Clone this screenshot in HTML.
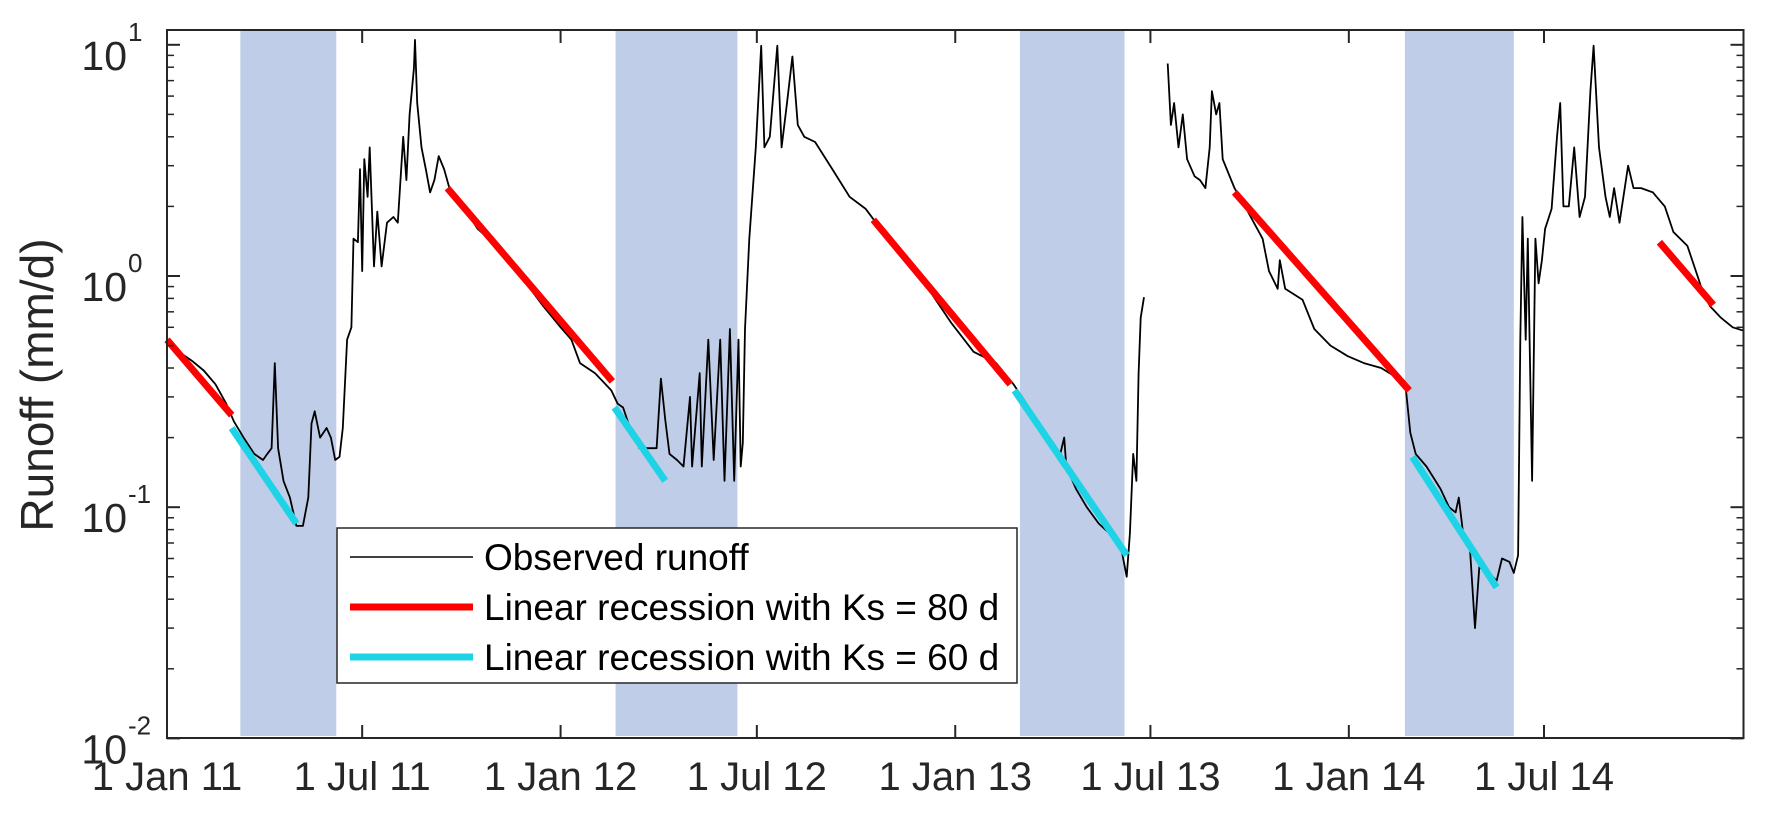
<!DOCTYPE html>
<html><head><meta charset="utf-8"><style>
html,body{margin:0;padding:0;background:#fff;}
svg{display:block;font-family:"Liberation Sans",Arial,sans-serif;}
</style></head><body>
<svg id="chart" width="1766" height="821"></svg>
<script>
// ---- data ----
const obsDays=[0,23,34,45,55,62,71,81,89,93,97,100,103,108,114,120,126,131,134,137,142,148,152,156,160,163,167,171,173,177,179,181,183,186,188,192,195,199,204,210,214,219,222,225,227,229,230,232,236,240,244,248,252,257,263,276,288,302,318,333,349,365,375,383,397,412,418,423,428,433,438,454,458,462,466,473,479,485,487,494,496,502,507,513,517,522,526,530,532,534,536,540,546,551,554,559,566,570,575,580,585,591,601,617,633,648,664,685,706,727,748,769,785,795,806,816,827,832,834,843,853,864,874,884,890,893,896,899,901,903,906];
const obsVals=[0.51,0.43,0.39,0.34,0.28,0.235,0.2,0.17,0.16,0.17,0.18,0.42,0.18,0.13,0.11,0.083,0.083,0.11,0.23,0.26,0.2,0.22,0.2,0.16,0.165,0.22,0.53,0.6,1.45,1.4,2.9,1.05,3.2,2.2,3.6,1.1,1.9,1.1,1.7,1.8,1.7,4.0,2.6,5.0,6.3,7.9,10.5,5.6,3.6,2.9,2.3,2.6,3.3,2.9,2.3,1.95,1.6,1.4,1.17,0.93,0.74,0.6,0.53,0.42,0.38,0.32,0.28,0.27,0.23,0.21,0.18,0.18,0.36,0.24,0.17,0.16,0.15,0.3,0.15,0.38,0.15,0.53,0.16,0.53,0.13,0.59,0.13,0.53,0.15,0.19,0.59,1.45,3.6,9.9,3.6,4.0,9.9,3.6,5.6,8.9,4.5,4.0,3.8,2.9,2.2,1.95,1.55,1.17,0.88,0.63,0.47,0.42,0.34,0.29,0.23,0.2,0.16,0.2,0.15,0.12,0.1,0.085,0.077,0.07,0.05,0.077,0.17,0.13,0.38,0.66,0.81];
const obsDays2=[928,931,934,938,942,946,953,958,963,967,969,973,976,979,990,1001,1016,1022,1030,1032,1037,1053,1064,1079,1095,1110,1126,1142,1149,1153,1158,1168,1181,1189,1195,1198,1202,1208,1213,1217,1226,1233,1238,1245,1249,1253,1255,1257,1260,1262,1266,1269,1272,1275,1278,1284,1289,1292,1295,1300,1305,1310,1315,1320,1323,1328,1334,1338,1342,1347,1355,1360,1367,1378,1389,1397,1410,1420,1425,1431,1441,1452,1462];
const obsVals2=[8.3,4.5,5.6,3.6,5.0,3.2,2.7,2.6,2.4,3.6,6.3,5.0,5.6,3.2,2.4,1.95,1.45,1.05,0.88,1.17,0.88,0.79,0.59,0.5,0.45,0.42,0.4,0.36,0.32,0.21,0.17,0.15,0.12,0.1,0.095,0.11,0.077,0.07,0.03,0.055,0.052,0.048,0.06,0.058,0.052,0.062,0.53,1.8,0.53,1.45,0.13,1.45,0.93,1.17,1.6,1.95,4.0,5.6,2.0,2.0,3.6,1.8,2.2,6.3,9.9,3.6,2.2,1.8,2.4,1.7,3.0,2.4,2.4,2.3,2.0,1.55,1.35,0.98,0.83,0.74,0.66,0.6,0.58];
const redStart=[0,260,655,990,1384], redStartVal=[0.53,2.4,1.75,2.3,1.4];
const redEnd=[60,413,782,1152,1434], redEndVal=[0.25,0.35,0.34,0.32,0.75];
const cyanStart=[60,415,786,1155], cyanStartVal=[0.22,0.27,0.32,0.165];
const cyanEnd=[120,462,890,1233], cyanEndVal=[0.085,0.13,0.062,0.045];
const shadeStart=[68,416,791,1148], shadeEnd=[157,529,888,1249];
const xTickDays=[0,181,365,547,731,912,1096,1277];
const xTickLabels=["1 Jan 11","1 Jul 11","1 Jan 12","1 Jul 12","1 Jan 13","1 Jul 13","1 Jan 14","1 Jul 14"];
const yTickExps=[-2,-1,0,1];

// ---- axes ----
const L=167,R=1743.5,T=30,B=738,D0=0,D1=1462;
const x=d=>L+(d-D0)/(D1-D0)*(R-L);
const y=v=>276-231.2*Math.log10(v);
const NS="http://www.w3.org/2000/svg";
const svg=document.getElementById('chart');
function mk(tag,attrs,parent){const e=document.createElementNS(NS,tag);for(const k in attrs)e.setAttribute(k,attrs[k]);(parent||svg).appendChild(e);return e;}

const gShade=mk('g',{});


shadeStart.forEach((s,i)=>{
  const r=mk('rect',{x:x(s),y:T,width:x(shadeEnd[i])-x(s),height:B-T-2,fill:'#bfcde8'},gShade);
  
  
});

function series(days,vals,name){
  const p=mk('path',{d:days.map((d,i)=>(i?'L':'M')+x(d).toFixed(1)+','+y(vals[i]).toFixed(1)).join(''),fill:'none',stroke:'#000',"stroke-width":1.8,"stroke-linejoin":'round'});
  
  
}
series(obsDays,obsVals,'observed-runoff-line');
series(obsDays2,obsVals2,'observed-runoff-line-2');

function segs(s,sv,e,ev,col,name){
  s.forEach((d,i)=>{
    const l=mk('line',{x1:x(d),y1:y(sv[i]),x2:x(e[i]),y2:y(ev[i]),stroke:col,"stroke-width":7});
    
    
  });
}
segs(redStart,redStartVal,redEnd,redEndVal,'#ff0000','recession-ks80');
segs(cyanStart,cyanStartVal,cyanEnd,cyanEndVal,'#1fd3e6','recession-ks60');

// frame
const fr=mk('rect',{x:L,y:T,width:R-L,height:B-T,fill:'none',stroke:'#262626',"stroke-width":2});



// x ticks
xTickDays.forEach((d,i)=>{
  const X=x(d);
  mk('line',{x1:X,y1:B,x2:X,y2:B-13,stroke:'#262626',"stroke-width":2});
  mk('line',{x1:X,y1:T,x2:X,y2:T+13,stroke:'#262626',"stroke-width":2});
  const t=mk('text',{x:X,y:B+52,"text-anchor":'middle',"font-size":40,fill:'#262626'});
  t.textContent=xTickLabels[i];
  
  
});
// y ticks
yTickExps.forEach(e=>{
  const Y=y(Math.pow(10,e));
  mk('line',{x1:L,y1:Y,x2:L+13,y2:Y,stroke:'#262626',"stroke-width":2});
  mk('line',{x1:R,y1:Y,x2:R-13,y2:Y,stroke:'#262626',"stroke-width":2});
  const t=mk('text',{x:127,y:Y+25,"text-anchor":'end',"font-size":41,fill:'#262626'});
  t.textContent='10';
  
  
  const s=mk('text',{x:128,y:Y-4,"text-anchor":'start',"font-size":26,fill:'#262626'});
  s.textContent=String(e);
  
  
  if(e<1){for(let m=2;m<10;m++){const Ym=y(m*Math.pow(10,e));
    mk('line',{x1:L,y1:Ym,x2:L+7,y2:Ym,stroke:'#262626',"stroke-width":1.5});
    mk('line',{x1:R,y1:Ym,x2:R-7,y2:Ym,stroke:'#262626',"stroke-width":1.5});}}
});
const yl=mk('text',{x:0,y:0,transform:'translate(53,385) rotate(-90)',"text-anchor":'middle',"font-size":46,fill:'#262626'});
yl.textContent='Runoff (mm/d)';



// legend
const lg=mk('g',{});


mk('rect',{x:337,y:528,width:680,height:155,fill:'#fff',stroke:'#262626',"stroke-width":1.5},lg);
const items=[['Observed runoff','#000',1.6],['Linear recession with Ks = 80 d','#ff0000',7],['Linear recession with Ks = 60 d','#1fd3e6',7]];
items.forEach((it,i)=>{
  const Y=557+i*50;
  const ln=mk('line',{x1:350,y1:Y,x2:473,y2:Y,stroke:it[1],"stroke-width":it[2]},lg);
  
  
  const t=mk('text',{x:484,y:Y+13,"font-size":37,fill:'#000'},lg);
  t.textContent=it[0];
  
  
});
</script>
</body></html>
